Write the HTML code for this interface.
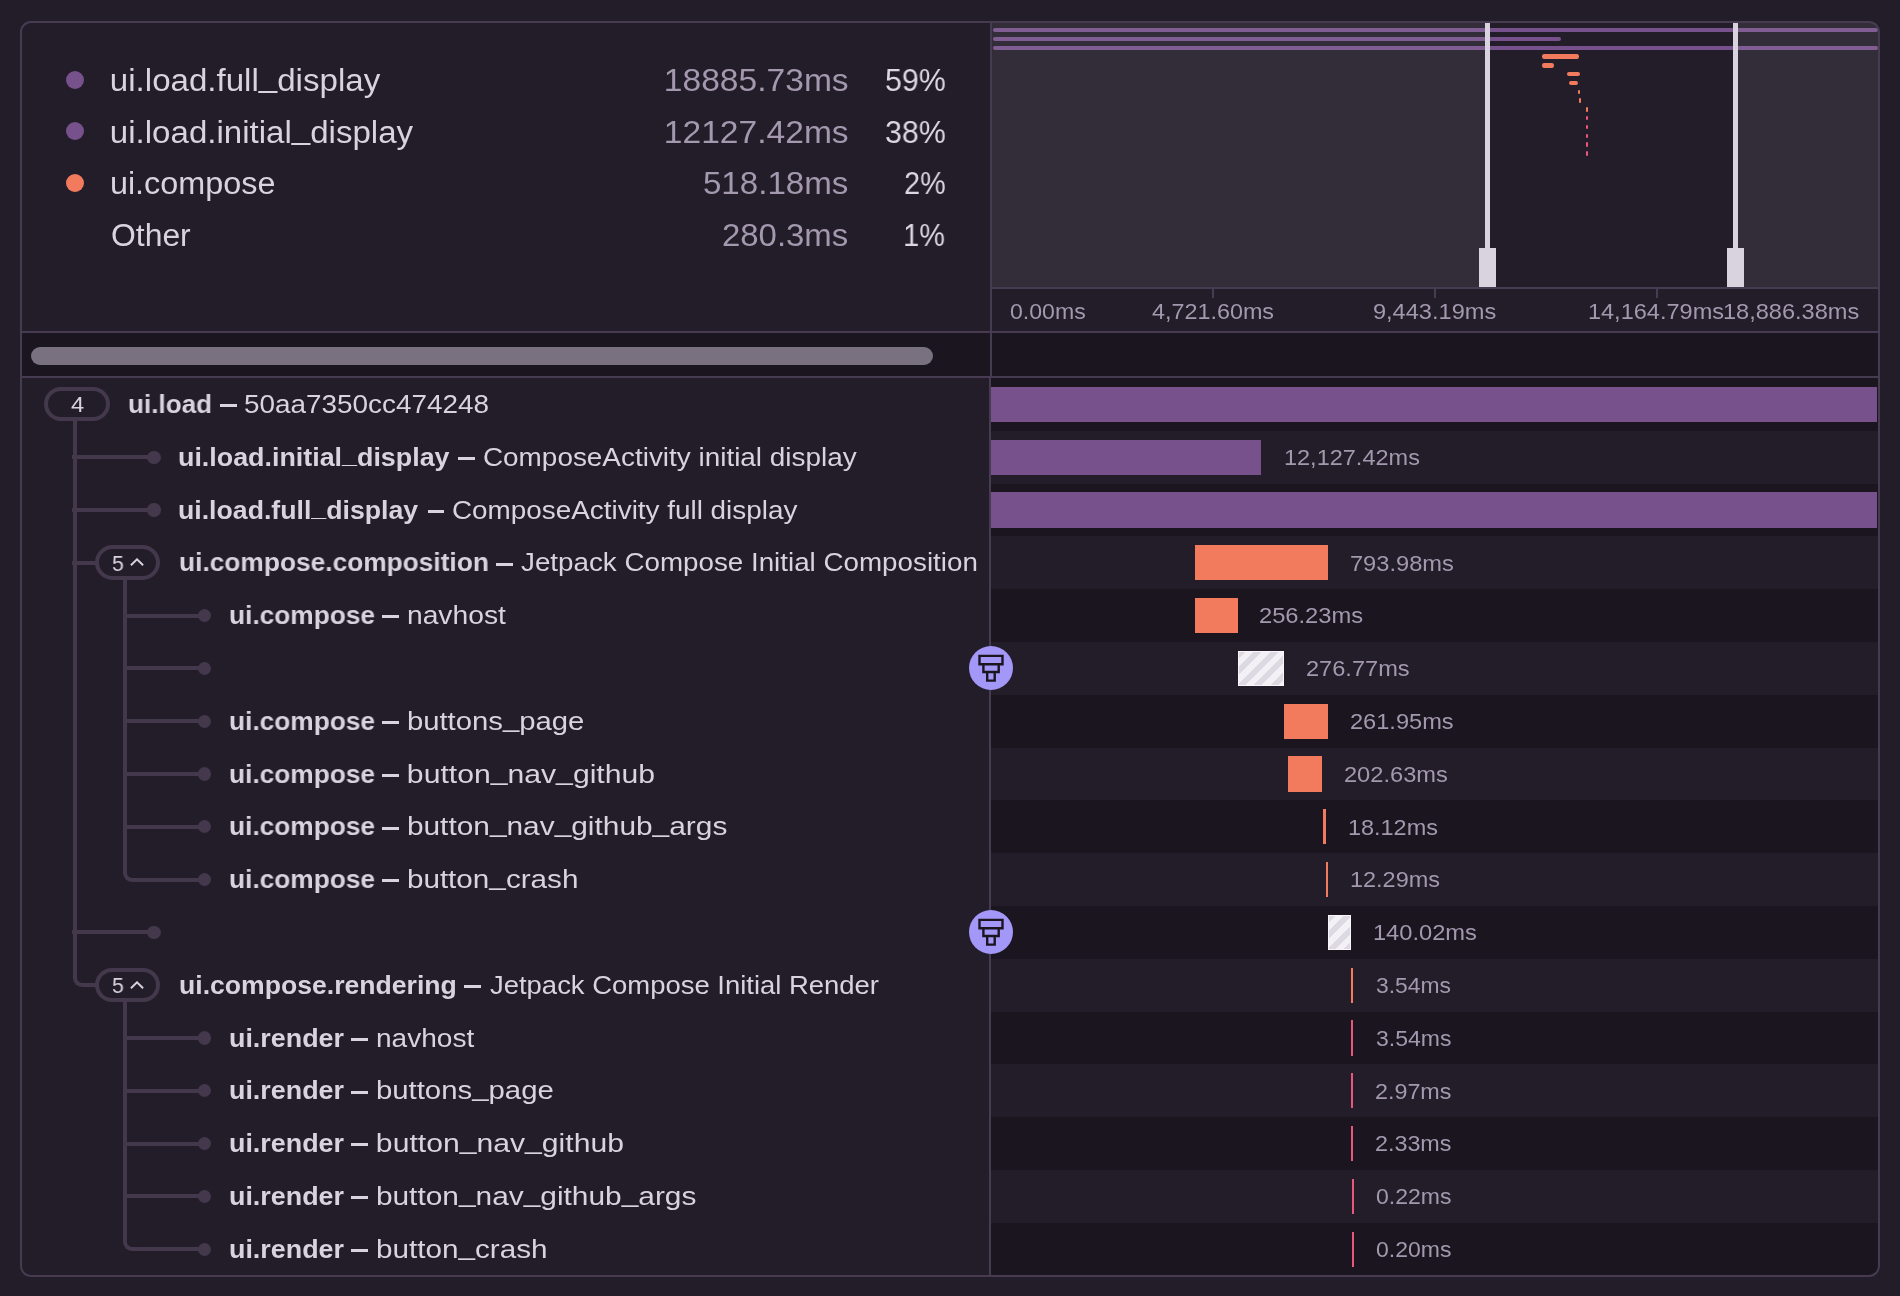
<!DOCTYPE html>
<html><head><meta charset="utf-8"><title>Trace</title>
<style>
html,body{margin:0;padding:0;}
body{width:1900px;height:1296px;overflow:hidden;background:#231d2a;position:relative;font-family:'Liberation Sans', sans-serif;}
.t{position:absolute;white-space:nowrap;font-family:'Liberation Sans', sans-serif;will-change:transform;}
.hatch{background:repeating-linear-gradient(135deg,#ddd9e2 0px,#ddd9e2 5.8px,#f3f0f6 5.8px,#f3f0f6 11.7px);box-shadow:0 0 0 1px #f8f6fa inset;}
</style></head><body>

<div style="position:absolute;left:993.00px;top:28.00px;width:885.00px;height:4.40px;background:#76518b;border-radius:2.2px;"></div>
<div style="position:absolute;left:993.00px;top:36.80px;width:568.00px;height:4.40px;background:#76518b;border-radius:2.2px;"></div>
<div style="position:absolute;left:993.00px;top:45.60px;width:885.00px;height:4.40px;background:#76518b;border-radius:2.2px;"></div>
<div style="position:absolute;left:1542.00px;top:54.40px;width:37.00px;height:4.40px;background:#f27b5e;border-radius:2.2px;"></div>
<div style="position:absolute;left:1542.00px;top:63.20px;width:12.00px;height:4.40px;background:#f27b5e;border-radius:2.2px;"></div>
<div style="position:absolute;left:1567.00px;top:72.00px;width:13.00px;height:4.40px;background:#f27b5e;border-radius:2.2px;"></div>
<div style="position:absolute;left:1569.00px;top:80.80px;width:9.00px;height:4.40px;background:#f27b5e;border-radius:2.2px;"></div>
<div style="position:absolute;left:1577.70px;top:89.60px;width:2.60px;height:4.40px;background:#f27b5e;border-radius:2.2px;"></div>
<div style="position:absolute;left:1578.90px;top:98.40px;width:2.30px;height:4.40px;background:#f27b5e;border-radius:2.2px;"></div>
<div style="position:absolute;left:1585.80px;top:107.20px;width:2.30px;height:4.40px;background:#f27b5e;border-radius:2.2px;"></div>
<div style="position:absolute;left:1585.80px;top:116.00px;width:2.30px;height:4.40px;background:#e9577b;border-radius:2.2px;"></div>
<div style="position:absolute;left:1585.80px;top:124.80px;width:2.30px;height:4.40px;background:#e9577b;border-radius:2.2px;"></div>
<div style="position:absolute;left:1585.80px;top:133.60px;width:2.30px;height:4.40px;background:#e9577b;border-radius:2.2px;"></div>
<div style="position:absolute;left:1585.80px;top:142.40px;width:2.30px;height:4.40px;background:#e9577b;border-radius:2.2px;"></div>
<div style="position:absolute;left:1585.80px;top:151.20px;width:2.30px;height:4.40px;background:#e9577b;border-radius:2.2px;"></div>
<div style="position:absolute;left:992.00px;top:23.00px;width:495.50px;height:264.00px;background:rgba(255,255,255,0.075);"></div>
<div style="position:absolute;left:1735.50px;top:23.00px;width:142.50px;height:264.00px;background:rgba(255,255,255,0.075);"></div>
<div style="position:absolute;left:1484.90px;top:23.00px;width:5.20px;height:227.00px;background:#d9d3df;"></div>
<div style="position:absolute;left:1479.00px;top:247.80px;width:17.00px;height:39.20px;background:#d9d3df;"></div>
<div style="position:absolute;left:1732.90px;top:23.00px;width:5.20px;height:227.00px;background:#d9d3df;"></div>
<div style="position:absolute;left:1727.00px;top:247.80px;width:17.00px;height:39.20px;background:#d9d3df;"></div>
<div style="position:absolute;left:992.00px;top:287.00px;width:886.00px;height:2.00px;background:#463b50;"></div>
<div style="position:absolute;left:1212.00px;top:289.00px;width:2.00px;height:9.00px;background:#463b50;"></div>
<div style="position:absolute;left:1434.00px;top:289.00px;width:2.00px;height:9.00px;background:#463b50;"></div>
<div style="position:absolute;left:1655.50px;top:289.00px;width:2.00px;height:9.00px;background:#463b50;"></div>
<div style="position:absolute;left:66px;top:70.90px;width:18px;height:18px;border-radius:50%;background:#76518b"></div>
<div style="position:absolute;left:66px;top:122.40px;width:18px;height:18px;border-radius:50%;background:#76518b"></div>
<div style="position:absolute;left:66px;top:173.90px;width:18px;height:18px;border-radius:50%;background:#f27b5e"></div>
<div style="position:absolute;left:22.00px;top:331.00px;width:1856.00px;height:2.00px;background:#463b50;"></div>
<div style="position:absolute;left:22.00px;top:333.00px;width:1856.00px;height:43.00px;background:#1b1520;"></div>
<div style="position:absolute;left:31.00px;top:347.00px;width:902.00px;height:17.50px;background:#79717f;border-radius:9px;"></div>
<div style="position:absolute;left:22.00px;top:376.00px;width:1856.00px;height:2.00px;background:#463b50;"></div>
<div style="position:absolute;left:990.00px;top:23.00px;width:2.00px;height:353.00px;background:#463b50;"></div>
<div style="position:absolute;left:989.00px;top:378.00px;width:2.00px;height:897.00px;background:#463b50;"></div>
<div style="position:absolute;left:991.00px;top:378.00px;width:887.00px;height:52.80px;background:#1b1520;"></div>
<div style="position:absolute;left:991.00px;top:483.60px;width:887.00px;height:52.80px;background:#1b1520;"></div>
<div style="position:absolute;left:991.00px;top:589.20px;width:887.00px;height:52.80px;background:#1b1520;"></div>
<div style="position:absolute;left:991.00px;top:694.80px;width:887.00px;height:52.80px;background:#1b1520;"></div>
<div style="position:absolute;left:991.00px;top:800.40px;width:887.00px;height:52.80px;background:#1b1520;"></div>
<div style="position:absolute;left:991.00px;top:906.00px;width:887.00px;height:52.80px;background:#1b1520;"></div>
<div style="position:absolute;left:991.00px;top:1011.60px;width:887.00px;height:52.80px;background:#1b1520;"></div>
<div style="position:absolute;left:991.00px;top:1117.20px;width:887.00px;height:52.80px;background:#1b1520;"></div>
<div style="position:absolute;left:991.00px;top:1222.80px;width:887.00px;height:52.80px;background:#1b1520;"></div>
<div style="position:absolute;left:991.00px;top:386.80px;width:886.00px;height:35.20px;background:#76518b;"></div>
<div style="position:absolute;left:991.00px;top:439.60px;width:270.00px;height:35.20px;background:#76518b;"></div>
<div style="position:absolute;left:991.00px;top:492.40px;width:886.00px;height:35.20px;background:#76518b;"></div>
<div style="position:absolute;left:1194.70px;top:545.20px;width:133.50px;height:35.20px;background:#f27b5e;"></div>
<div style="position:absolute;left:1194.70px;top:598.00px;width:43.20px;height:35.20px;background:#f27b5e;"></div>
<div class="hatch" style="position:absolute;left:1237.90px;top:650.80px;width:46.00px;height:35.2px"></div>
<div style="position:absolute;left:1283.90px;top:703.60px;width:44.30px;height:35.20px;background:#f27b5e;"></div>
<div style="position:absolute;left:1288.00px;top:756.40px;width:33.90px;height:35.20px;background:#f27b5e;"></div>
<div style="position:absolute;left:1323.10px;top:809.20px;width:2.80px;height:35.20px;background:#f27b5e;"></div>
<div style="position:absolute;left:1325.90px;top:862.00px;width:2.20px;height:35.20px;background:#f27b5e;"></div>
<div class="hatch" style="position:absolute;left:1327.80px;top:914.80px;width:23.40px;height:35.2px"></div>
<div style="position:absolute;left:1350.90px;top:967.60px;width:2.30px;height:35.20px;background:#f27b5e;"></div>
<div style="position:absolute;left:1350.80px;top:1020.40px;width:2.10px;height:35.20px;background:#e9577b;"></div>
<div style="position:absolute;left:1350.80px;top:1073.20px;width:2.10px;height:35.20px;background:#e9577b;"></div>
<div style="position:absolute;left:1350.80px;top:1126.00px;width:2.10px;height:35.20px;background:#e9577b;"></div>
<div style="position:absolute;left:1351.90px;top:1178.80px;width:2.10px;height:35.20px;background:#e9577b;"></div>
<div style="position:absolute;left:1351.90px;top:1231.60px;width:2.10px;height:35.20px;background:#e9577b;"></div>
<div style="position:absolute;left:72.90px;top:418.40px;width:4.20px;height:557.80px;background:#43384c;"></div>
<div style="position:absolute;left:72.90px;top:973.20px;width:23.10px;height:14.10px;box-sizing:border-box;border-left:4.2px solid #43384c;border-bottom:4.2px solid #43384c;border-bottom-left-radius:9px"></div>
<div style="position:absolute;left:44.00px;top:387.00px;width:57.60px;height:26.40px;border:4.2px solid #43384c;border-radius:20px;background:#231d2a"></div>
<div style="position:absolute;left:219.60px;top:404.00px;width:17.10px;height:3.00px;background:#d9d3df;"></div>
<div style="position:absolute;left:72.00px;top:455.10px;width:82.00px;height:4.20px;background:#43384c;"></div>
<div style="position:absolute;left:147.40px;top:450.60px;width:13.2px;height:13.2px;border-radius:50%;background:#43384c"></div>
<div style="position:absolute;left:72.00px;top:507.90px;width:82.00px;height:4.20px;background:#43384c;"></div>
<div style="position:absolute;left:147.40px;top:503.40px;width:13.2px;height:13.2px;border-radius:50%;background:#43384c"></div>
<div style="position:absolute;left:72.00px;top:930.30px;width:82.00px;height:4.20px;background:#43384c;"></div>
<div style="position:absolute;left:147.40px;top:925.80px;width:13.2px;height:13.2px;border-radius:50%;background:#43384c"></div>
<div style="position:absolute;left:458.00px;top:457.00px;width:17.00px;height:3.00px;background:#d9d3df;"></div>
<div style="position:absolute;left:427.50px;top:510.00px;width:16.70px;height:3.00px;background:#d9d3df;"></div>
<div style="position:absolute;left:72.00px;top:560.70px;width:25.00px;height:4.20px;background:#43384c;"></div>
<div style="position:absolute;left:95.00px;top:545.40px;width:57.20px;height:26.40px;border:4.2px solid #43384c;border-radius:20px;background:#231d2a"></div>
<svg style="position:absolute;left:129.60px;top:558.20px" width="14" height="9" viewBox="0 0 14 9"><path d="M0.9 7.3 L7 1.3 L13.1 7.3" fill="none" stroke="#d9d3df" stroke-width="1.9"/></svg>
<div style="position:absolute;left:496.00px;top:563.00px;width:16.80px;height:3.00px;background:#d9d3df;"></div>
<div style="position:absolute;left:123.10px;top:576.80px;width:4.20px;height:293.80px;background:#43384c;"></div>
<div style="position:absolute;left:123.10px;top:867.60px;width:80.90px;height:14.10px;box-sizing:border-box;border-left:4.2px solid #43384c;border-bottom:4.2px solid #43384c;border-bottom-left-radius:9px"></div>
<div style="position:absolute;left:125.20px;top:613.50px;width:78.80px;height:4.20px;background:#43384c;"></div>
<div style="position:absolute;left:197.90px;top:609.00px;width:13.2px;height:13.2px;border-radius:50%;background:#43384c"></div>
<div style="position:absolute;left:125.20px;top:666.30px;width:78.80px;height:4.20px;background:#43384c;"></div>
<div style="position:absolute;left:197.90px;top:661.80px;width:13.2px;height:13.2px;border-radius:50%;background:#43384c"></div>
<div style="position:absolute;left:125.20px;top:719.10px;width:78.80px;height:4.20px;background:#43384c;"></div>
<div style="position:absolute;left:197.90px;top:714.60px;width:13.2px;height:13.2px;border-radius:50%;background:#43384c"></div>
<div style="position:absolute;left:125.20px;top:771.90px;width:78.80px;height:4.20px;background:#43384c;"></div>
<div style="position:absolute;left:197.90px;top:767.40px;width:13.2px;height:13.2px;border-radius:50%;background:#43384c"></div>
<div style="position:absolute;left:125.20px;top:824.70px;width:78.80px;height:4.20px;background:#43384c;"></div>
<div style="position:absolute;left:197.90px;top:820.20px;width:13.2px;height:13.2px;border-radius:50%;background:#43384c"></div>
<div style="position:absolute;left:197.90px;top:873.00px;width:13.2px;height:13.2px;border-radius:50%;background:#43384c"></div>
<div style="position:absolute;left:382.10px;top:615.00px;width:16.80px;height:3.00px;background:#d9d3df;"></div>
<div style="position:absolute;left:382.10px;top:721.00px;width:16.80px;height:3.00px;background:#d9d3df;"></div>
<div style="position:absolute;left:382.10px;top:774.00px;width:16.80px;height:3.00px;background:#d9d3df;"></div>
<div style="position:absolute;left:382.10px;top:827.00px;width:16.80px;height:3.00px;background:#d9d3df;"></div>
<div style="position:absolute;left:382.10px;top:879.00px;width:16.80px;height:3.00px;background:#d9d3df;"></div>
<div style="position:absolute;left:95.00px;top:967.80px;width:57.20px;height:26.40px;border:4.2px solid #43384c;border-radius:20px;background:#231d2a"></div>
<svg style="position:absolute;left:129.60px;top:980.60px" width="14" height="9" viewBox="0 0 14 9"><path d="M0.9 7.3 L7 1.3 L13.1 7.3" fill="none" stroke="#d9d3df" stroke-width="1.9"/></svg>
<div style="position:absolute;left:463.80px;top:985.00px;width:17.10px;height:3.00px;background:#d9d3df;"></div>
<div style="position:absolute;left:123.10px;top:999.20px;width:4.20px;height:241.00px;background:#43384c;"></div>
<div style="position:absolute;left:123.10px;top:1237.20px;width:80.90px;height:14.10px;box-sizing:border-box;border-left:4.2px solid #43384c;border-bottom:4.2px solid #43384c;border-bottom-left-radius:9px"></div>
<div style="position:absolute;left:125.20px;top:1035.90px;width:78.80px;height:4.20px;background:#43384c;"></div>
<div style="position:absolute;left:197.90px;top:1031.40px;width:13.2px;height:13.2px;border-radius:50%;background:#43384c"></div>
<div style="position:absolute;left:350.50px;top:1038.00px;width:17.40px;height:3.00px;background:#d9d3df;"></div>
<div style="position:absolute;left:125.20px;top:1088.70px;width:78.80px;height:4.20px;background:#43384c;"></div>
<div style="position:absolute;left:197.90px;top:1084.20px;width:13.2px;height:13.2px;border-radius:50%;background:#43384c"></div>
<div style="position:absolute;left:350.50px;top:1091.00px;width:17.40px;height:3.00px;background:#d9d3df;"></div>
<div style="position:absolute;left:125.20px;top:1141.50px;width:78.80px;height:4.20px;background:#43384c;"></div>
<div style="position:absolute;left:197.90px;top:1137.00px;width:13.2px;height:13.2px;border-radius:50%;background:#43384c"></div>
<div style="position:absolute;left:350.50px;top:1143.00px;width:17.40px;height:3.00px;background:#d9d3df;"></div>
<div style="position:absolute;left:125.20px;top:1194.30px;width:78.80px;height:4.20px;background:#43384c;"></div>
<div style="position:absolute;left:197.90px;top:1189.80px;width:13.2px;height:13.2px;border-radius:50%;background:#43384c"></div>
<div style="position:absolute;left:350.50px;top:1196.00px;width:17.40px;height:3.00px;background:#d9d3df;"></div>
<div style="position:absolute;left:197.90px;top:1242.60px;width:13.2px;height:13.2px;border-radius:50%;background:#43384c"></div>
<div style="position:absolute;left:350.50px;top:1249.00px;width:17.40px;height:3.00px;background:#d9d3df;"></div>
<svg style="position:absolute;left:969px;top:646.40px" width="44" height="44" viewBox="0 0 44 44">
<circle cx="22" cy="22" r="22" fill="#a397f7"/>
<path d="M10.5 9.9 H33.5 V18.2 H10.5 Z M14.4 18.2 H29.7 V26 H14.4 Z M18.2 26 H25.7 V34.6 H18.2 Z" fill="none" stroke="#1b1520" stroke-width="2.4"/>
</svg>
<svg style="position:absolute;left:969px;top:910.40px" width="44" height="44" viewBox="0 0 44 44">
<circle cx="22" cy="22" r="22" fill="#a397f7"/>
<path d="M10.5 9.9 H33.5 V18.2 H10.5 Z M14.4 18.2 H29.7 V26 H14.4 Z M18.2 26 H25.7 V34.6 H18.2 Z" fill="none" stroke="#1b1520" stroke-width="2.4"/>
</svg>
<div class="t" style="left:1010.30px;top:301.04px;font-size:22.4px;line-height:22.4px;font-weight:400;color:#a398ae;transform:scaleX(1.0310);transform-origin:0.00px 50%">0.00ms</div>
<div class="t" style="left:1152.40px;top:301.04px;font-size:22.4px;line-height:22.4px;font-weight:400;color:#a398ae;transform:scaleX(1.0427);transform-origin:0.00px 50%">4,721.60ms</div>
<div class="t" style="left:1373.00px;top:301.04px;font-size:22.4px;line-height:22.4px;font-weight:400;color:#a398ae;transform:scaleX(1.0535);transform-origin:1.00px 50%">9,443.19ms</div>
<div class="t" style="left:1587.90px;top:301.04px;font-size:22.4px;line-height:22.4px;font-weight:400;color:#a398ae;transform:scaleX(1.0510);transform-origin:1.00px 50%">14,164.79ms</div>
<div class="t" style="left:1723.20px;top:301.04px;font-size:22.4px;line-height:22.4px;font-weight:400;color:#a398ae;transform:scaleX(1.0525);transform-origin:1.00px 50%">18,886.38ms</div>
<div class="t" style="left:109.60px;top:65.26px;font-size:31px;line-height:31px;font-weight:400;color:#d9d3df;transform:scaleX(1.0670);transform-origin:2.00px 50%">ui.load.full<span style="position:relative;top:-3.7px">_</span>display</div>
<div class="t" style="left:663.80px;top:65.26px;font-size:31px;line-height:31px;font-weight:400;color:#a398ae;transform:scaleX(1.0831);transform-origin:2.00px 50%">18885.73ms</div>
<div class="t" style="left:884.50px;top:65.26px;font-size:31px;line-height:31px;font-weight:400;color:#ddd7e3;transform:scaleX(0.9788);transform-origin:1.00px 50%">59%</div>
<div class="t" style="left:109.60px;top:116.76px;font-size:31px;line-height:31px;font-weight:400;color:#d9d3df;transform:scaleX(1.0663);transform-origin:2.00px 50%">ui.load.initial<span style="position:relative;top:-3.7px">_</span>display</div>
<div class="t" style="left:663.80px;top:116.76px;font-size:31px;line-height:31px;font-weight:400;color:#a398ae;transform:scaleX(1.0831);transform-origin:2.00px 50%">12127.42ms</div>
<div class="t" style="left:884.50px;top:116.76px;font-size:31px;line-height:31px;font-weight:400;color:#ddd7e3;transform:scaleX(0.9788);transform-origin:1.00px 50%">38%</div>
<div class="t" style="left:109.60px;top:168.26px;font-size:31px;line-height:31px;font-weight:400;color:#d9d3df;transform:scaleX(1.0439);transform-origin:2.00px 50%">ui.compose</div>
<div class="t" style="left:703.00px;top:168.26px;font-size:31px;line-height:31px;font-weight:400;color:#a398ae;transform:scaleX(1.0688);transform-origin:1.00px 50%">518.18ms</div>
<div class="t" style="left:903.50px;top:168.26px;font-size:31px;line-height:31px;font-weight:400;color:#ddd7e3;transform:scaleX(0.9297);transform-origin:1.00px 50%">2%</div>
<div class="t" style="left:110.60px;top:219.76px;font-size:31px;line-height:31px;font-weight:400;color:#d9d3df;transform:scaleX(1.0288);transform-origin:1.00px 50%">Other</div>
<div class="t" style="left:722.20px;top:219.76px;font-size:31px;line-height:31px;font-weight:400;color:#a398ae;transform:scaleX(1.0622);transform-origin:1.00px 50%">280.3ms</div>
<div class="t" style="left:903.30px;top:219.76px;font-size:31px;line-height:31px;font-weight:400;color:#ddd7e3;transform:scaleX(0.9327);transform-origin:2.00px 50%">1%</div>
<div class="t" style="left:1283.50px;top:447.04px;font-size:22.4px;line-height:22.4px;font-weight:400;color:#a398ae;transform:scaleX(1.0502);transform-origin:1.00px 50%">12,127.42ms</div>
<div class="t" style="left:1349.60px;top:552.64px;font-size:22.4px;line-height:22.4px;font-weight:400;color:#a398ae;transform:scaleX(1.0563);transform-origin:1.00px 50%">793.98ms</div>
<div class="t" style="left:1259.30px;top:605.44px;font-size:22.4px;line-height:22.4px;font-weight:400;color:#a398ae;transform:scaleX(1.0593);transform-origin:1.00px 50%">256.23ms</div>
<div class="t" style="left:1306.00px;top:658.24px;font-size:22.4px;line-height:22.4px;font-weight:400;color:#a398ae;transform:scaleX(1.0542);transform-origin:1.00px 50%">276.77ms</div>
<div class="t" style="left:1349.60px;top:711.04px;font-size:22.4px;line-height:22.4px;font-weight:400;color:#a398ae;transform:scaleX(1.0542);transform-origin:1.00px 50%">261.95ms</div>
<div class="t" style="left:1344.20px;top:763.84px;font-size:22.4px;line-height:22.4px;font-weight:400;color:#a398ae;transform:scaleX(1.0563);transform-origin:1.00px 50%">202.63ms</div>
<div class="t" style="left:1347.60px;top:816.64px;font-size:22.4px;line-height:22.4px;font-weight:400;color:#a398ae;transform:scaleX(1.0474);transform-origin:1.00px 50%">18.12ms</div>
<div class="t" style="left:1349.90px;top:869.44px;font-size:22.4px;line-height:22.4px;font-weight:400;color:#a398ae;transform:scaleX(1.0486);transform-origin:1.00px 50%">12.29ms</div>
<div class="t" style="left:1373.00px;top:922.24px;font-size:22.4px;line-height:22.4px;font-weight:400;color:#a398ae;transform:scaleX(1.0573);transform-origin:1.00px 50%">140.02ms</div>
<div class="t" style="left:1376.40px;top:975.04px;font-size:22.4px;line-height:22.4px;font-weight:400;color:#a398ae;transform:scaleX(1.0214);transform-origin:0.00px 50%">3.54ms</div>
<div class="t" style="left:1376.25px;top:1027.84px;font-size:22.4px;line-height:22.4px;font-weight:400;color:#a398ae;transform:scaleX(1.0276);transform-origin:0.00px 50%">3.54ms</div>
<div class="t" style="left:1375.25px;top:1080.64px;font-size:22.4px;line-height:22.4px;font-weight:400;color:#a398ae;transform:scaleX(1.0418);transform-origin:1.00px 50%">2.97ms</div>
<div class="t" style="left:1375.25px;top:1133.44px;font-size:22.4px;line-height:22.4px;font-weight:400;color:#a398ae;transform:scaleX(1.0418);transform-origin:1.00px 50%">2.33ms</div>
<div class="t" style="left:1376.25px;top:1186.24px;font-size:22.4px;line-height:22.4px;font-weight:400;color:#a398ae;transform:scaleX(1.0276);transform-origin:0.00px 50%">0.22ms</div>
<div class="t" style="left:1376.25px;top:1239.04px;font-size:22.4px;line-height:22.4px;font-weight:400;color:#a398ae;transform:scaleX(1.0276);transform-origin:0.00px 50%">0.20ms</div>
<div class="t" style="left:70.50px;top:394.14px;font-size:22.4px;line-height:22.4px;font-weight:400;color:#d9d3df;transform:scaleX(1.0583);transform-origin:0.00px 50%">4</div>
<div class="t" style="left:127.55px;top:390.98px;font-size:26.6px;line-height:26.6px;font-weight:700;color:#d9d3df;transform:scaleX(0.9797);transform-origin:1.00px 50%">ui.load</div>
<div class="t" style="left:244.30px;top:390.98px;font-size:26.6px;line-height:26.6px;font-weight:400;color:#d9d3df;transform:scaleX(1.0493);transform-origin:1.00px 50%">50aa7350cc474248</div>
<div class="t" style="left:178.30px;top:443.78px;font-size:26.6px;line-height:26.6px;font-weight:700;color:#d9d3df;transform:scaleX(1.0095);transform-origin:1.00px 50%">ui.load.initial<span style="position:relative;top:-3.2px">_</span>display</div>
<div class="t" style="left:482.60px;top:443.78px;font-size:26.6px;line-height:26.6px;font-weight:400;color:#d9d3df;transform:scaleX(1.0492);transform-origin:1.00px 50%">ComposeActivity initial display</div>
<div class="t" style="left:178.30px;top:496.58px;font-size:26.6px;line-height:26.6px;font-weight:700;color:#d9d3df;transform:scaleX(1.0030);transform-origin:1.00px 50%">ui.load.full<span style="position:relative;top:-3.2px">_</span>display</div>
<div class="t" style="left:452.00px;top:496.58px;font-size:26.6px;line-height:26.6px;font-weight:400;color:#d9d3df;transform:scaleX(1.0480);transform-origin:1.00px 50%">ComposeActivity full display</div>
<div class="t" style="left:111.90px;top:552.74px;font-size:22.4px;line-height:22.4px;font-weight:400;color:#d9d3df;transform:scaleX(0.9500);transform-origin:0.00px 50%">5</div>
<div class="t" style="left:178.50px;top:549.38px;font-size:26.6px;line-height:26.6px;font-weight:700;color:#d9d3df;transform:scaleX(0.9894);transform-origin:1.00px 50%">ui.compose.composition</div>
<div class="t" style="left:521.00px;top:549.38px;font-size:26.6px;line-height:26.6px;font-weight:400;color:#d9d3df;transform:scaleX(1.0441);transform-origin:0.00px 50%">Jetpack Compose Initial Composition</div>
<div class="t" style="left:228.70px;top:602.18px;font-size:26.6px;line-height:26.6px;font-weight:700;color:#d9d3df;transform:scaleX(0.9878);transform-origin:1.00px 50%">ui.compose</div>
<div class="t" style="left:406.80px;top:602.18px;font-size:26.6px;line-height:26.6px;font-weight:400;color:#d9d3df;transform:scaleX(1.0619);transform-origin:1.00px 50%">navhost</div>
<div class="t" style="left:228.70px;top:707.78px;font-size:26.6px;line-height:26.6px;font-weight:700;color:#d9d3df;transform:scaleX(0.9878);transform-origin:1.00px 50%">ui.compose</div>
<div class="t" style="left:406.80px;top:707.78px;font-size:26.6px;line-height:26.6px;font-weight:400;color:#d9d3df;transform:scaleX(1.1004);transform-origin:1.00px 50%">buttons<span style="position:relative;top:-3.2px">_</span>page</div>
<div class="t" style="left:228.70px;top:760.58px;font-size:26.6px;line-height:26.6px;font-weight:700;color:#d9d3df;transform:scaleX(0.9878);transform-origin:1.00px 50%">ui.compose</div>
<div class="t" style="left:406.80px;top:760.58px;font-size:26.6px;line-height:26.6px;font-weight:400;color:#d9d3df;transform:scaleX(1.1338);transform-origin:1.00px 50%">button<span style="position:relative;top:-3.2px">_</span>nav<span style="position:relative;top:-3.2px">_</span>github</div>
<div class="t" style="left:228.70px;top:813.38px;font-size:26.6px;line-height:26.6px;font-weight:700;color:#d9d3df;transform:scaleX(0.9878);transform-origin:1.00px 50%">ui.compose</div>
<div class="t" style="left:406.80px;top:813.38px;font-size:26.6px;line-height:26.6px;font-weight:400;color:#d9d3df;transform:scaleX(1.1226);transform-origin:1.00px 50%">button<span style="position:relative;top:-3.2px">_</span>nav<span style="position:relative;top:-3.2px">_</span>github<span style="position:relative;top:-3.2px">_</span>args</div>
<div class="t" style="left:228.70px;top:866.18px;font-size:26.6px;line-height:26.6px;font-weight:700;color:#d9d3df;transform:scaleX(0.9878);transform-origin:1.00px 50%">ui.compose</div>
<div class="t" style="left:406.80px;top:866.18px;font-size:26.6px;line-height:26.6px;font-weight:400;color:#d9d3df;transform:scaleX(1.1154);transform-origin:1.00px 50%">button<span style="position:relative;top:-3.2px">_</span>crash</div>
<div class="t" style="left:111.90px;top:975.14px;font-size:22.4px;line-height:22.4px;font-weight:400;color:#d9d3df;transform:scaleX(0.9500);transform-origin:0.00px 50%">5</div>
<div class="t" style="left:178.50px;top:971.78px;font-size:26.6px;line-height:26.6px;font-weight:700;color:#d9d3df;transform:scaleX(0.9998);transform-origin:1.00px 50%">ui.compose.rendering</div>
<div class="t" style="left:489.70px;top:971.78px;font-size:26.6px;line-height:26.6px;font-weight:400;color:#d9d3df;transform:scaleX(1.0319);transform-origin:0.00px 50%">Jetpack Compose Initial Render</div>
<div class="t" style="left:228.70px;top:1024.58px;font-size:26.6px;line-height:26.6px;font-weight:700;color:#d9d3df;transform:scaleX(1.0103);transform-origin:1.00px 50%">ui.render</div>
<div class="t" style="left:375.70px;top:1024.58px;font-size:26.6px;line-height:26.6px;font-weight:400;color:#d9d3df;transform:scaleX(1.0555);transform-origin:1.00px 50%">navhost</div>
<div class="t" style="left:228.70px;top:1077.38px;font-size:26.6px;line-height:26.6px;font-weight:700;color:#d9d3df;transform:scaleX(1.0103);transform-origin:1.00px 50%">ui.render</div>
<div class="t" style="left:375.70px;top:1077.38px;font-size:26.6px;line-height:26.6px;font-weight:400;color:#d9d3df;transform:scaleX(1.1035);transform-origin:1.00px 50%">buttons<span style="position:relative;top:-3.2px">_</span>page</div>
<div class="t" style="left:228.70px;top:1130.18px;font-size:26.6px;line-height:26.6px;font-weight:700;color:#d9d3df;transform:scaleX(1.0103);transform-origin:1.00px 50%">ui.render</div>
<div class="t" style="left:375.70px;top:1130.18px;font-size:26.6px;line-height:26.6px;font-weight:400;color:#d9d3df;transform:scaleX(1.1333);transform-origin:1.00px 50%">button<span style="position:relative;top:-3.2px">_</span>nav<span style="position:relative;top:-3.2px">_</span>github</div>
<div class="t" style="left:228.70px;top:1182.98px;font-size:26.6px;line-height:26.6px;font-weight:700;color:#d9d3df;transform:scaleX(1.0103);transform-origin:1.00px 50%">ui.render</div>
<div class="t" style="left:375.70px;top:1182.98px;font-size:26.6px;line-height:26.6px;font-weight:400;color:#d9d3df;transform:scaleX(1.1229);transform-origin:1.00px 50%">button<span style="position:relative;top:-3.2px">_</span>nav<span style="position:relative;top:-3.2px">_</span>github<span style="position:relative;top:-3.2px">_</span>args</div>
<div class="t" style="left:228.70px;top:1235.78px;font-size:26.6px;line-height:26.6px;font-weight:700;color:#d9d3df;transform:scaleX(1.0103);transform-origin:1.00px 50%">ui.render</div>
<div class="t" style="left:375.70px;top:1235.78px;font-size:26.6px;line-height:26.6px;font-weight:400;color:#d9d3df;transform:scaleX(1.1160);transform-origin:1.00px 50%">button<span style="position:relative;top:-3.2px">_</span>crash</div>
<div style="position:absolute;left:20px;top:21px;width:1856px;height:1252px;border:2px solid #463b50;border-radius:11px;box-shadow:0 0 0 30px #231d2a;pointer-events:none"></div>
</body></html>
